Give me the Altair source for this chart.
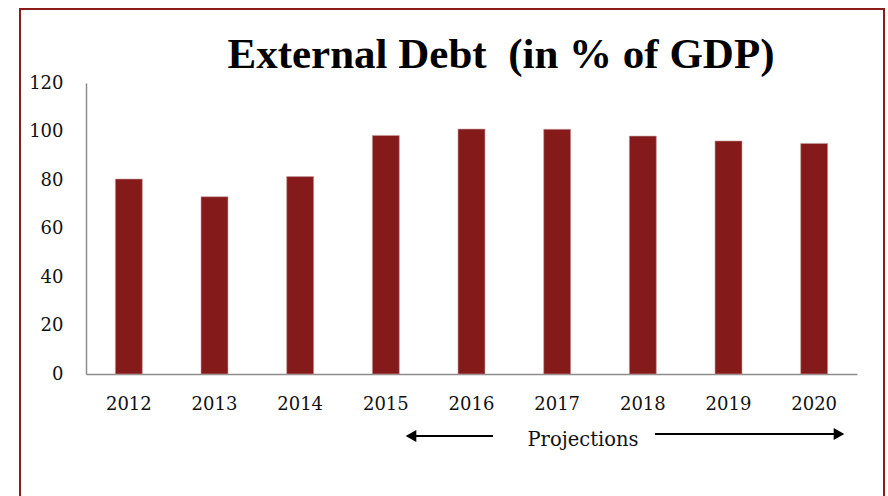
import altair as alt
import pandas as pd

years = ["2012", "2013", "2014", "2015", "2016", "2017", "2018", "2019", "2020"]
debt = [80.4, 73.1, 81.4, 98.4, 101.0, 100.9, 98.1, 96.1, 95.1]
y_ticks = [0, 20, 40, 60, 80, 100, 120]
title_text = "External Debt\u00a0 (in % of GDP)"
note_text = "Projections"

df = pd.DataFrame({"year": years, "debt": debt})
one = pd.DataFrame({"k": [0]})

W, H = 771, 291
SERIF = "DejaVu Serif"
RED = "#841a1a"

bars = alt.Chart(df).mark_bar(color=RED, stroke="#c9a0a0", strokeWidth=0.6).encode(
    x=alt.X("year:N", sort=years,
            scale=alt.Scale(paddingInner=0.685, paddingOuter=0.3425),
            axis=alt.Axis(title=None, labelAngle=0, ticks=False, domainColor="#8c8c8c",
                          domainWidth=1.5, labelFont=SERIF, labelFontSize=18,
                          labelColor="#111", labelPadding=21)),
    y=alt.Y("debt:Q", scale=alt.Scale(domain=[0, 120], nice=False),
            axis=alt.Axis(title=None, values=y_ticks, ticks=False, grid=False,
                          domainColor="#8c8c8c", domainWidth=1.5, labelFont=SERIF,
                          labelFontSize=18, labelColor="#111", labelPadding=23)),
)

frame = alt.Chart(one).mark_rect(fill=None, stroke="#8b1c1c", strokeWidth=2).encode(
    x=alt.value(-66), x2=alt.value(798), y=alt.value(-74), y2=alt.value(440)
)

title = alt.Chart(one).mark_text(font="Liberation Serif", fontWeight="bold", fontSize=43,
                                  color="#000", baseline="alphabetic").encode(
    x=alt.value(415), y=alt.value(-15), text=alt.value(title_text)
)

note = alt.Chart(one).mark_text(font=SERIF, fontSize=19.5, color="#111",
                                 baseline="middle").encode(
    x=alt.value(497), y=alt.value(357), text=alt.value(note_text)
)

left_line = alt.Chart(one).mark_rule(color="#000", strokeWidth=2).encode(
    x=alt.value(407), x2=alt.value(330), y=alt.value(353)
)
right_line = alt.Chart(one).mark_rule(color="#000", strokeWidth=2).encode(
    x=alt.value(569), x2=alt.value(748), y=alt.value(351)
)
left_head = alt.Chart(one).mark_point(shape="triangle-left", filled=True, color="#000",
                                      opacity=1, size=150).encode(
    x=alt.value(325), y=alt.value(353)
)
right_head = alt.Chart(one).mark_point(shape="triangle-right", filled=True, color="#000",
                                       opacity=1, size=150).encode(
    x=alt.value(753), y=alt.value(351)
)

chart = alt.layer(frame, bars, title, note, left_line, right_line, left_head, right_head).properties(
    width=W, height=H,
    background="white",
    autosize=alt.AutoSizeParams(type="none"),
    padding={"left": 86, "top": 83, "right": 31, "bottom": 122},
).configure_view(stroke=None)

chart.save("out.html", embed_options={"renderer": "svg", "actions": False})
